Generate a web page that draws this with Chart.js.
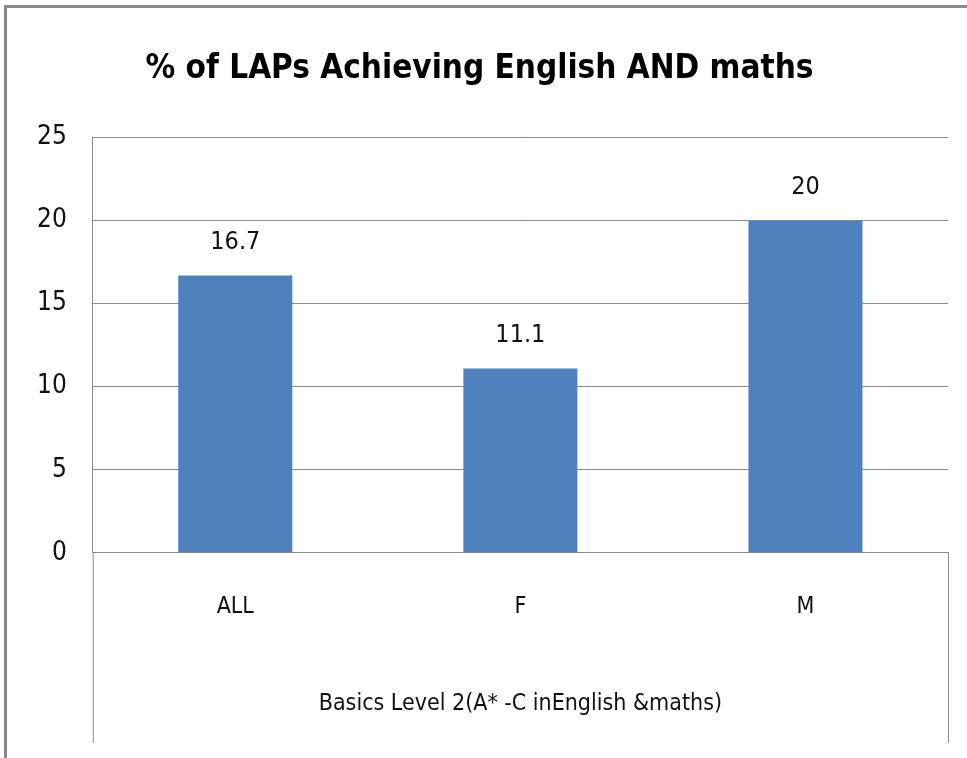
<!DOCTYPE html>
<html>
<head>
<meta charset="utf-8">
<script src="https://cdn.jsdelivr.net/npm/chart.js@4"></script>
<style>
  html, body { margin: 0; padding: 0; background: #fff; }
  #wrap { position: relative; width: 967px; height: 758px; }
  #frame { position: absolute; left: 4px; top: 5px; right: 0; bottom: 0;
           border-top: 3px solid #8a8a8a; border-left: 3px solid #8a8a8a; pointer-events: none; }
</style>
</head>
<body>
<div id="wrap">
  <canvas id="myChart" width="967" height="758"></canvas>
  <div id="frame"></div>
</div>
<script>
// Dados do gráfico
const categories = ['ALL', 'F', 'M'];
const values = [16.7, 11.1, 20];
const yMax = 25;
const yStep = 5;

const FONT = '"Liberation Sans Narrow", "DejaVu Sans Condensed", "Liberation Sans", sans-serif';

// Rótulos de valor acima das barras
const valueLabels = {
    id: 'valueLabels',
    afterDatasetsDraw(chart) {
        const ctx = chart.ctx;
        const meta = chart.getDatasetMeta(0);
        ctx.save();
        ctx.font = '25px ' + FONT;
        ctx.fillStyle = '#111';
        ctx.textAlign = 'center';
        ctx.textBaseline = 'middle';
        meta.data.forEach((bar, i) => {
            ctx.fillText(String(values[i]), bar.x, bar.y - 33);
        });
        ctx.restore();
    }
};

// Caixa do eixo de categorias (linhas verticais abaixo do eixo)
const axisBox = {
    id: 'axisBox',
    afterDraw(chart) {
        const ctx = chart.ctx;
        const a = chart.chartArea;
        ctx.save();
        ctx.strokeStyle = '#8c8c8c';
        ctx.lineWidth = 1;
        ctx.beginPath();
        ctx.moveTo(a.left + 0.5, a.bottom);
        ctx.lineTo(a.left + 0.5, 743);
        ctx.moveTo(a.right + 0.5, a.bottom);
        ctx.lineTo(a.right + 0.5, 743);
        ctx.stroke();
        ctx.restore();
    }
};

var ctx = document.getElementById('myChart').getContext('2d');
var chart = new Chart(ctx, {
    type: 'bar',
    data: {
        labels: categories,
        datasets: [{
            data: values,
            backgroundColor: '#4F81BD',
            borderWidth: 0,
            categoryPercentage: 1,
            barPercentage: 0.4
        }]
    },
    options: {
        responsive: false,
        animation: false,
        layout: { padding: { left: 11, right: 19, top: 0, bottom: 4 } },
        plugins: {
            legend: { display: false },
            tooltip: { enabled: false },
            title: {
                display: true,
                text: '% of LAPs Achieving English AND maths',
                color: '#000',
                font: { family: FONT, size: 33, weight: 'bold' },
                padding: { top: 50, bottom: 48 }
            }
        },
        scales: {
            x: {
                grid: { display: false },
                border: { display: true, color: '#8c8c8c', width: 1 },
                ticks: { color: '#111', font: { family: FONT, size: 23 }, padding: 32 },
                title: {
                    display: true,
                    text: 'Basics Level 2(A* -C inEnglish &maths)',
                    color: '#111',
                    font: { family: FONT, size: 23 },
                    padding: { top: 38, bottom: 36 }
                }
            },
            y: {
                min: 0,
                max: yMax,
                ticks: { stepSize: yStep, color: '#111', font: { family: FONT, size: 26 }, padding: 26 },
                grid: { color: '#8c8c8c', lineWidth: 1, drawTicks: false },
                border: { display: true, color: '#8c8c8c', width: 1 }
            }
        }
    },
    plugins: [valueLabels, axisBox]
});
</script>
</body>
</html>
